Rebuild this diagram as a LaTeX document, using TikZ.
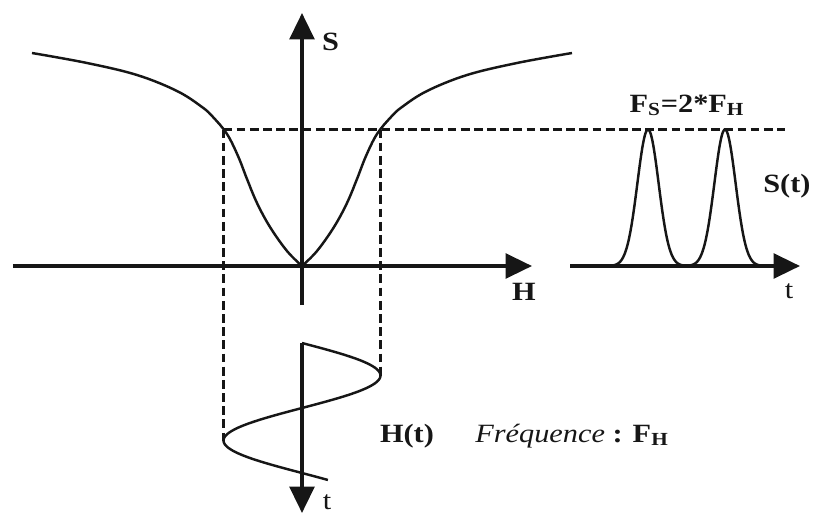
\documentclass[tikz,border=0pt]{standalone}
\usepackage{fontspec}
\setmainfont{Liberation Serif}[FakeStretch=1.15]
\usetikzlibrary{arrows.meta}
\definecolor{ink}{HTML}{161616}

\begin{document}
\begin{tikzpicture}[font=\fontsize{15}{17}\selectfont,text=ink,
  >={Triangle[length=15pt,width=14pt]},
  axis/.style={ink,line width=2.1pt,->},
  trace/.style={ink,line width=1.4pt},
  guide/.style={ink,line width=1.4pt,dash pattern=on 5pt off 2.5pt},
  lbl/.style={font=\bfseries\fontsize{15}{17}\selectfont,inner sep=0pt},
  tlbl/.style={inner sep=0pt,anchor=base}]
  \useasboundingbox (-6.04,-4.98) rectangle (10.22,5.32);
  \coordinate (O) at (0,0);

  \coordinate (Sbot) at (0,-.78);
  \coordinate (Stop) at (0,5.06);
  \coordinate (Hleft) at (-5.78,0);
  \coordinate (Hright) at (4.6,0);
  \coordinate (tleft) at (5.36,0);
  \coordinate (tright) at (9.96,0);
  \coordinate (Htop) at (0,-1.54);
  \coordinate (Hbot) at (0,-4.94);

  \draw[axis] (Sbot)--(Stop);
  \draw[axis] (Hleft)--(Hright);
  \draw[axis] (tleft)--(tright);
  \draw[axis] (Htop)--(Hbot);

  \foreach \s in {-1,1} {
    \draw[trace,xscale=\s] plot[smooth,tension=.6] coordinates {
      (0,0) (.3,.3) (.64,.78) (.9,1.26) (1.1,1.74) (1.28,2.2)
      (1.5,2.64) (1.78,2.98) (2.0,3.18) (2.5,3.5) (3.3,3.82)
      (4.3,4.06) (5.4,4.26)};
  }

  \coordinate (kneeL) at (-1.57,2.73);
  \coordinate (kneeR) at (1.57,2.73);
  \coordinate (Send) at (9.66,2.73);
  \coordinate (Hmax) at (1.57,-2.19);
  \coordinate (Hmin) at (-1.57,-3.49);
  \draw[guide] (kneeL)--(Send);
  \draw[guide] (kneeL)--(Hmin);
  \draw[guide] (kneeR)--(Hmax);

  \draw[trace] plot[domain=0:2.74,samples=90,smooth]
    ({1.57*sin(\x/2.6*360)},{-1.54-\x});

  \foreach \c/\a/\b in {6.92/6.2/7.64,8.46/7.74/9.18} {
    \draw[trace] plot[domain=\a:\b,samples=60,smooth]
      (\x,{2.73*exp(0-((\x-\c)/.3)^2)});
  }

  \node[lbl,anchor=base] (Slab) at (.57,4.32) {S};
  \node[lbl,anchor=base] (Hlab) at (4.44,-.68) {H};
  \node[tlbl] (tlab) at (9.74,-.64) {t};
  \node[lbl,anchor=base] (Fs) at (7.7,3.08)
    {F\textsubscript{S}=2*F\textsubscript{H}};
  \node[lbl,anchor=base west] (Stlab) at (9.22,1.48) {S(t)};
  \node[lbl,anchor=base] (Htlab) at (2.1,-3.52) {H(t)};
  \node[lbl,anchor=base west] (freq) at (3.46,-3.52)
    {\mdseries\itshape Fréquence \bfseries\upshape: F\textsubscript{H}};
  \node[tlbl] (tbot) at (.5,-4.86) {t};
\end{tikzpicture}
\end{document}
